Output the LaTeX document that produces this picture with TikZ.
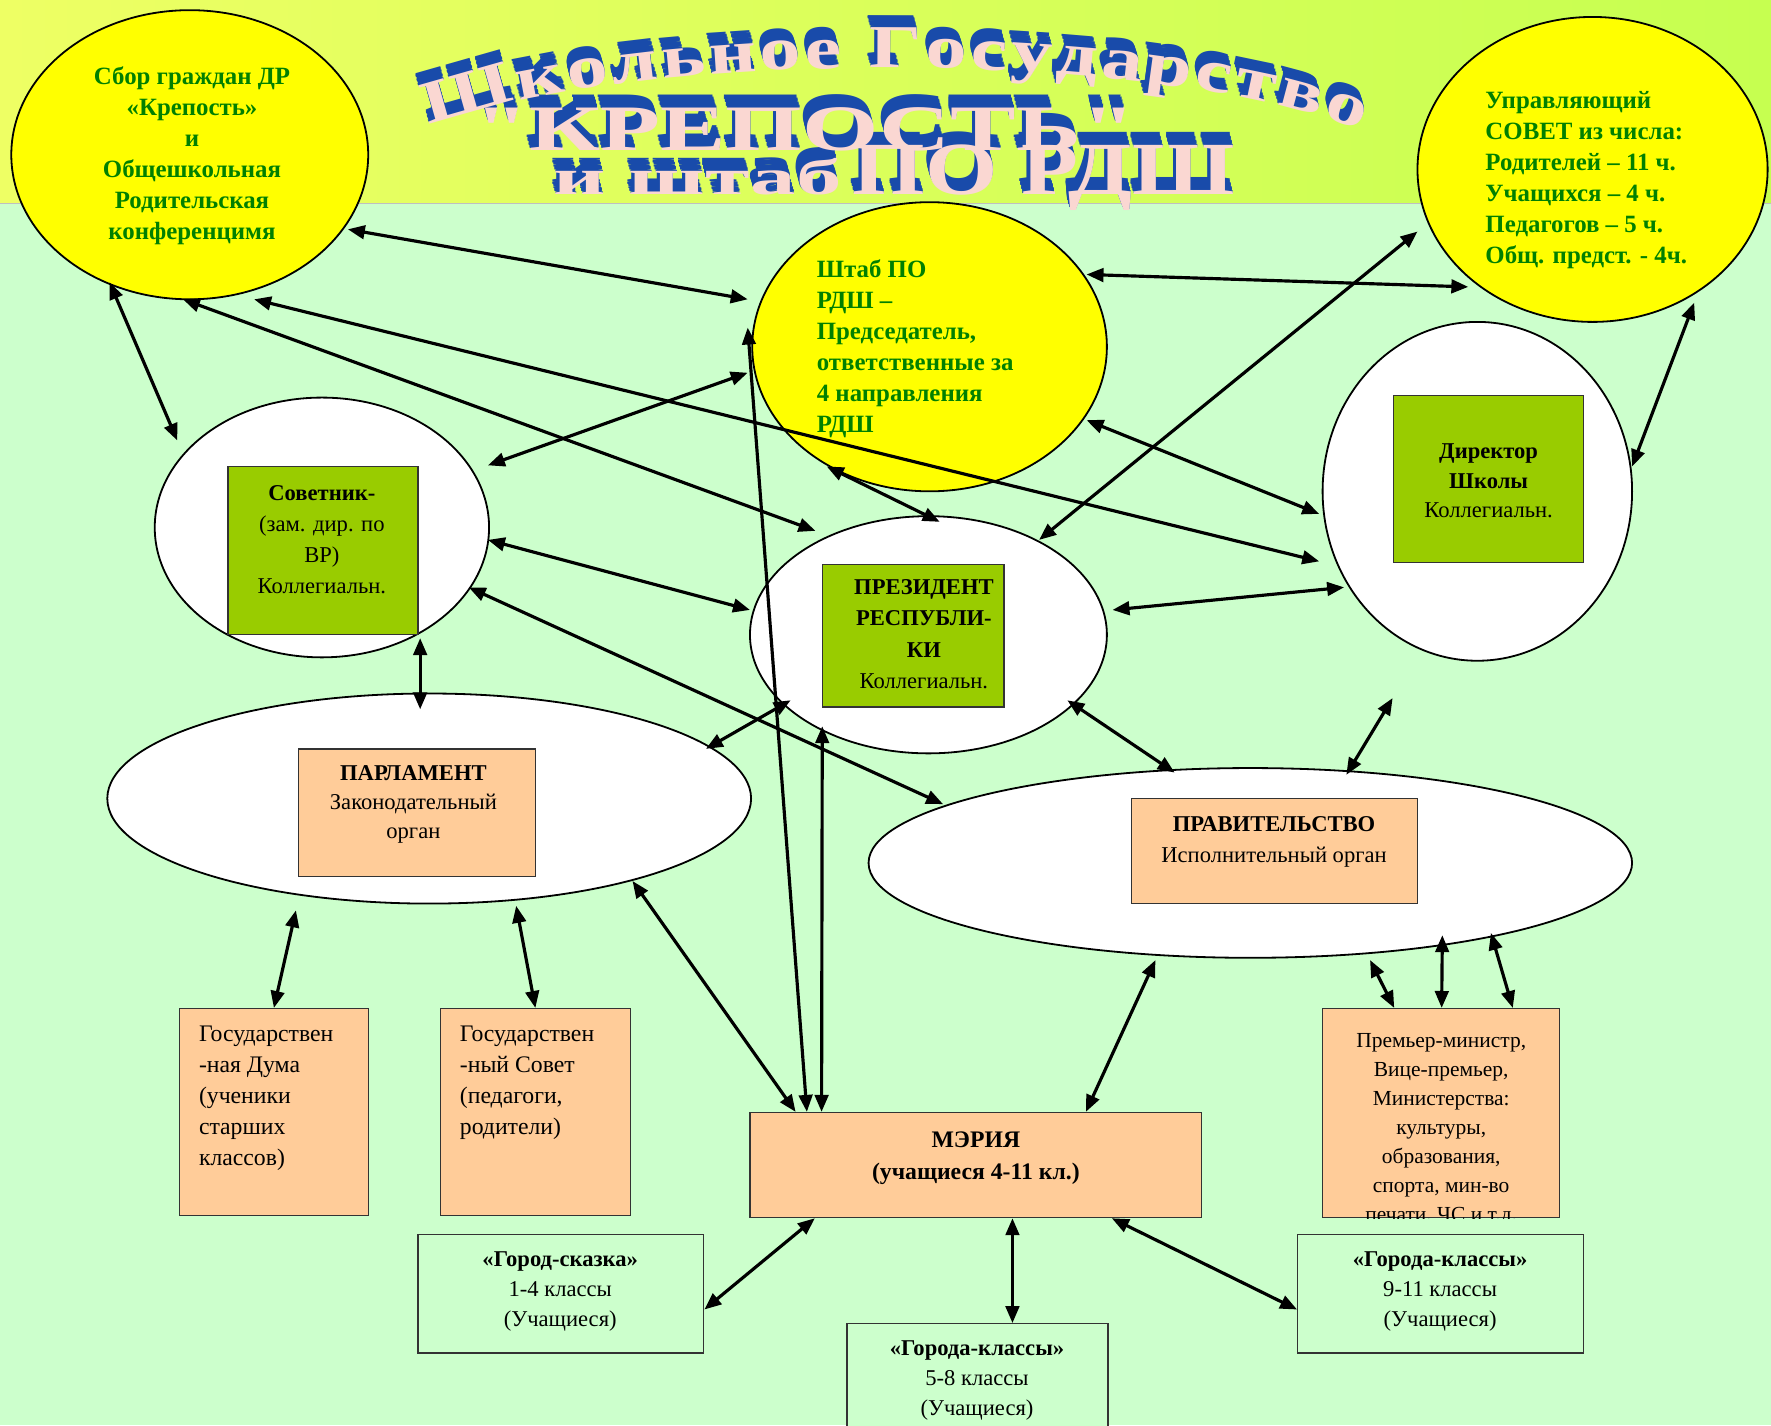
\documentclass[tikz,border=0pt]{standalone}
\usepackage{fontspec}
\setmainfont{Liberation Serif}
\newfontfamily\artfont[FakeStretch=1.35]{Liberation Serif}
\usetikzlibrary{shapes.geometric,arrows.meta,calc,decorations.text}
\definecolor{mint}{RGB}{204,255,204}
\definecolor{bandL}{RGB}{238,255,100}
\definecolor{bandR}{RGB}{198,255,80}
\definecolor{ylw}{RGB}{255,255,0}
\definecolor{grtext}{RGB}{0,128,0}
\definecolor{boxgreen}{RGB}{153,204,0}
\definecolor{peach}{RGB}{255,204,153}
\definecolor{artblue}{RGB}{25,75,170}
\definecolor{artface}{RGB}{250,215,210}
\begin{document}
\begin{tikzpicture}[x=1pt,y=-1pt,
  yell/.style={ellipse, draw=black, line width=1.6pt, fill=ylw, inner sep=0},
  wel/.style={ellipse, draw=black, line width=1.6pt, fill=white, inner sep=0},
  gbox/.style={rectangle, draw=black!80, line width=1.2pt, fill=boxgreen, inner sep=0},
  pbox/.style={rectangle, draw=black!80, line width=1.2pt, fill=peach, inner sep=0},
  mbox/.style={rectangle, draw=black!80, line width=1.2pt, fill=mint, inner sep=0},
  gtxt/.style={inner sep=0, text=grtext, font=\fontsize{22}{27.4}\selectfont\bfseries},
  btxt/.style={inner sep=0, text=black, font=\fontsize{21}{27.4}\selectfont},
  link/.style={{Triangle[length=15pt,width=12pt]}-{Triangle[length=15pt,width=12pt]}, line width=2.8pt, black},
  artf/.style={inner sep=0, text=artface},
  arts/.style={inner sep=0, text=artblue}
]
\useasboundingbox (0,0) rectangle (1568,1262);
\clip (0,0) rectangle (1568,1262);
% background
\fill[mint] (0,0) rectangle (1568,1262);
\shade[left color=bandL, right color=bandR] (0,0) rectangle (1568,180);
\draw[black!25, line width=0.8pt] (0,180) -- (1568,180);

% title: blue extrusion copies + pink face
\foreach \k in {10,9,...,1}{
  \begin{scope}[xshift=-0.3*\k pt, yshift=1.1*\k pt]
    \path[decorate, decoration={text along path, text align={fit to path}, text color=artblue,
      text={|\artfont\bfseries\fontsize{54}{54}\selectfont|Школьное Государство}}]
      (380,112) .. controls (560,42) and (1025,42) .. (1205,116);
  \end{scope}
  \node[arts, anchor=base west] (t2s\k) at ($(420,133)+(-0.3*\k,-1.1*\k)$) {\resizebox{585pt}{38pt}{\artfont\bfseries "КРЕПОСТЬ"}};
  \node[arts, anchor=base west] (t3as\k) at ($(490,172)+(-0.3*\k,-1.1*\k)$) {\resizebox{255pt}{32pt}{\artfont\bfseries и штаб}};
  \node[arts, anchor=base west] (t3bs\k) at ($(755,172)+(-0.3*\k,-1.1*\k)$) {\resizebox{338pt}{44pt}{\artfont\bfseries ПО РДШ}};
}
\path[decorate, decoration={text along path, text align={fit to path}, text color=artface,
  text={|\artfont\bfseries\fontsize{54}{54}\selectfont|Школьное Государство}}]
  (380,112) .. controls (560,42) and (1025,42) .. (1205,116);
\node[artf, anchor=base west] (t2) at (420,133) {\resizebox{585pt}{38pt}{\artfont\bfseries "КРЕПОСТЬ"}};
\node[artf, anchor=base west] (t3a) at (490,172) {\resizebox{255pt}{32pt}{\artfont\bfseries и штаб}};
\node[artf, anchor=base west] (t3b) at (755,172) {\resizebox{338pt}{44pt}{\artfont\bfseries ПО РДШ}};

% ellipses
\node[yell, minimum width=316pt, minimum height=256pt] (A) at (168,137) {};
\node[yell, minimum width=310pt, minimum height=270pt] (B) at (1410,150) {};
\node[yell, minimum width=314pt, minimum height=256pt] (C) at (823,307) {};
\node[wel, minimum width=296pt, minimum height=230pt] (D) at (285,467) {};
\node[wel, minimum width=316pt, minimum height=210pt] (E) at (822,562) {};
\node[wel, minimum width=274pt, minimum height=300pt] (F) at (1308,435) {};
\node[wel, minimum width=570pt, minimum height=186pt] (G) at (380,707) {};
\node[wel, minimum width=676pt, minimum height=168pt] (H) at (1107,764) {};

% boxes
\node[gbox, minimum width=168pt, minimum height=149pt] (Dg) at (286,487.5) {};
\node[gbox, minimum width=161pt, minimum height=126pt] (Eg) at (808.5,563) {};
\node[gbox, minimum width=168pt, minimum height=148pt] (Fg) at (1318,424) {};
\node[pbox, minimum width=210pt, minimum height=113pt] (Gp) at (369,719.5) {};
\node[pbox, minimum width=253pt, minimum height=93pt] (Hp) at (1128.5,753.5) {};
\node[pbox, minimum width=167pt, minimum height=183pt] (GD) at (242.5,984.5) {};
\node[pbox, minimum width=168pt, minimum height=183pt] (GS) at (474,984.5) {};
\node[pbox, minimum width=400pt, minimum height=93pt] (M) at (864,1031.5) {};
\node[pbox, minimum width=210pt, minimum height=185pt] (P) at (1276,985.5) {};
\node[mbox, minimum width=253pt, minimum height=105pt] (S1) at (496.5,1145.5) {};
\node[mbox, minimum width=231pt, minimum height=103pt] (S2) at (865.5,1223.5) {};
\node[mbox, minimum width=253pt, minimum height=105pt] (S3) at (1275.5,1145.5) {};

% texts
\node[gtxt, anchor=north, align=center] (At) at (170,59) {Сбор граждан ДР\\«Крепость»\\и\\Общешкольная\\Родительская\\конференцимя};
\node[gtxt, anchor=north west, align=left] (Bt) at (1315,81) {Управляющий\\СОВЕТ из числа:\\Родителей – 11 ч.\\Учащихся – 4 ч.\\Педагогов – 5 ч.\\Общ. предст. - 4ч.};
\node[gtxt, anchor=north west, align=left] (Ct) at (723,230) {Штаб ПО\\РДШ –\\Председатель,\\ответственные за\\4 направления\\РДШ};
\node[btxt, anchor=north, align=center, font=\fontsize{20}{27.3}\selectfont] (Dt) at (285,430) {\textbf{Советник-}\\(зам. дир. по\\ВР)\\Коллегиальн.};
\node[btxt, anchor=north, align=center, font=\fontsize{20}{27.7}\selectfont] (Et) at (818,513) {\textbf{ПРЕЗИДЕНТ}\\\textbf{РЕСПУБЛИ-}\\\textbf{КИ}\\Коллегиальн.};
\node[btxt, anchor=north, align=center, font=\fontsize{20}{26}\selectfont] (Ft) at (1318,393) {\textbf{Директор}\\\textbf{Школы}\\Коллегиальн.};
\node[btxt, anchor=north, align=center, font=\fontsize{20}{25.5}\selectfont] (Gt) at (366,678) {\textbf{ПАРЛАМЕНТ}\\Законодательный\\орган};
\node[btxt, anchor=north, align=center, font=\fontsize{20}{27}\selectfont] (Ht) at (1128,723) {\textbf{ПРАВИТЕЛЬСТВО}\\Исполнительный орган};
\node[btxt, anchor=north west, align=left] (GDt) at (176,908) {Государствен\\-ная Дума\\(ученики\\старших\\классов)};
\node[btxt, anchor=north west, align=left] (GSt) at (407,908) {Государствен\\-ный Совет\\(педагоги,\\родители)};
\node[btxt, anchor=north, align=center, font=\fontsize{21}{28}\selectfont\bfseries] (Mt) at (864,1002) {МЭРИЯ\\(учащиеся 4-11 кл.)};
\begin{scope}
  \clip (P.north west) rectangle (P.south east);
  \node[btxt, anchor=north, align=center, font=\fontsize{19}{25.7}\selectfont] (Pt) at (1276,915) {Премьер-министр,\\Вице-премьер,\\Министерства:\\культуры,\\образования,\\спорта, мин-во\\печати, ЧС и т.д.};
\end{scope}
\node[btxt, anchor=north, align=center, font=\fontsize{20}{26.5}\selectfont] (S1t) at (496,1108) {\textbf{«Город-сказка»}\\1-4 классы\\(Учащиеся)};
\node[btxt, anchor=north, align=center, font=\fontsize{20}{26.5}\selectfont] (S2t) at (865,1187) {\textbf{«Города-классы»}\\5-8 классы\\(Учащиеся)};
\node[btxt, anchor=north, align=center, font=\fontsize{20}{26.5}\selectfont] (S3t) at (1275,1108) {\textbf{«Города-классы»}\\9-11 классы\\(Учащиеся)};

% connectors
\draw[link] ($(A)+(-71,113)$) -- ($(D)+(-128,-77)$);
\draw[link] ($(A)+(140,66)$) -- ($(C)+(-161,-42)$);
\draw[link] ($(A)+(-6,128)$) -- ($(E)+(-100,-92)$);
\draw[link] ($(A)+(57,128)$) -- ($(F)+(-140,62)$);
\draw[link] ($(D)+(147,-55)$) -- ($(C)+(-161,23)$);
\draw[link] ($(D)+(147,11)$) -- ($(E)+(-158,-22)$);
\draw[link] ($(D)+(130,53)$) -- ($(H)+(-272,-52)$);
\draw[link] ($(D)+(87,98)$) -- ($(G)+(-8,-79)$);
\draw[link] ($(C)+(-161,-17)$) -- ($(M.north west)+(51,0)$);
\draw[link] ($(C)+(139,-64)$) -- ($(B)+(-110,104)$);
\draw[link] ($(C)+(139,65)$) -- ($(F)+(-140,20)$);
\draw[link] ($(C)+(-91,106)$) -- ($(E)+(10,-100)$);
\draw[link] ($(B)+(-155,55)$) -- ($(E)+(98,-84)$);
\draw[link] ($(B)+(90,118)$) -- ($(F)+(137,-22)$);
\draw[link] ($(E)+(163,-22)$) -- ($(F)+(-118,85)$);
\draw[link] ($(E)+(123,58)$) -- ($(H)+(-67,-80)$);
\draw[link] ($(E)+(-122,58)$) -- ($(G)+(245,-44)$);
\draw[link] ($(E)+(-94,81)$) -- ($(M.north west)+(64,0)$);
\draw[link] ($(F)+(-75,183)$) -- ($(H)+(85,-78)$);
\draw[link] ($(G)+(-118,99)$) -- (GD.north);
\draw[link] ($(G)+(77,95)$) -- (GS.north);
\draw[link] ($(G)+(180,73)$) -- ($(M.north west)+(41,0)$);
\draw[link] ($(H)+(-84,86)$) -- ($(M.north west)+(298,0)$);
\draw[link] ($(H)+(106,86)$) -- ($(P.north west)+(64,0)$);
\draw[link] ($(H)+(170,64)$) -- ($(P.north west)+(106,0)$);
\draw[link] ($(H)+(213,62)$) -- ($(P.north west)+(169,0)$);
\draw[link] ($(M.south west)+(58,0)$) -- ($(S1.north east)+(0,67)$);
\draw[link] ($(M.south west)+(233,0)$) -- ($(S2.north west)+(147,0)$);
\draw[link] ($(M.south west)+(321,0)$) -- ($(S3.north west)+(0,67)$);
\end{tikzpicture}
\end{document}
